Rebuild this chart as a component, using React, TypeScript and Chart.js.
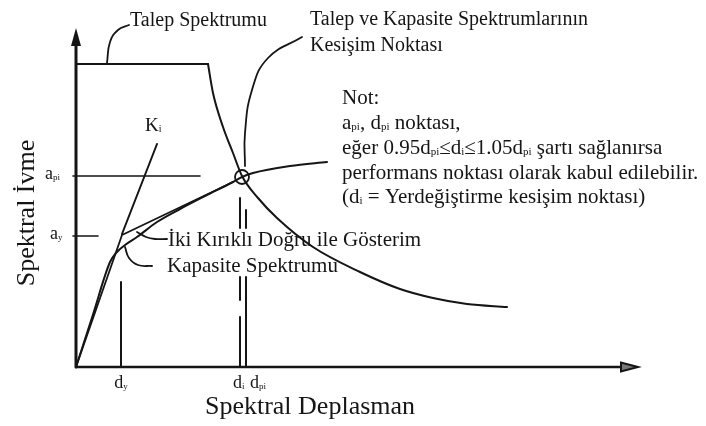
import { useEffect, useRef } from "react";
import { Chart, registerables } from "chart.js";

Chart.register(...registerables);

type P = [number, number];

// Schematic units: spectral displacement (x) and spectral acceleration (y), origin at 0,0
const xAxisLine: P[] = [[0, 0], [548, 0]];
const yAxisLine: P[] = [[0, 0], [0, 322]];
const xAxisTip: P = [562, 0];
const yAxisTip: P = [0, 339];

// Demand spectrum: constant plateau, then descending branch
const demandPlateau: P[] = [[0, 303], [132, 303]];
const demandBranch: P[] = [
  [132, 303], [137, 274], [147, 240], [157, 214], [166, 191], [182, 169],
  [201, 149], [237, 120], [284, 95], [324, 78], [357, 69], [391, 63], [431, 60],
];

// Capacity spectrum
const capacityCurve: P[] = [
  [0, 0], [17, 52.5], [34, 105], [40, 114], [49, 122], [61, 130], [81, 145],
  [104, 158], [129, 171], [157, 185], [166, 190], [177, 194], [214, 201], [251, 205],
];

// Bilinear representation and initial stiffness line
const bilinear: P[] = [[0, 0], [46, 132], [157, 185]];
const kiLine: P[] = [[46, 133], [81, 223]];

// Reference levels
const apiLevel: P[] = [[-3, 191], [124, 191]];
const ayLevel: P[] = [[-3, 131], [22, 131]];
const dyLine: P[] = [[45, 0], [45, 85]];
const diSegments: P[][] = [
  [[164, 169], [164, 139]],
  [[164, 90], [164, 67]],
  [[164, 50], [164, 0]],
];
const dpiSegments: P[][] = [
  [[170, 157], [170, 139]],
  [[170, 90], [170, 0]],
];
const performancePoint: P = [166, 190];

// Leader curves for callouts
const leaderDemand: P[] = [[31, 304], [34, 325], [42, 337], [53, 342]];
const leaderIntersection: P[] = [[169, 201], [169, 234], [176, 277], [192, 309], [226, 330]];
const leaderBilinear: P[] = [[61, 135], [70, 130], [79, 128], [91, 128]];
const leaderCapacity: P[] = [[49, 120], [53, 109], [62, 102], [76, 101]];

// Text: braces mark subscripts
type Label = { text: string; x: number; y: number; size: number; align?: "left" | "center"; rotate?: boolean };
const labels: Label[] = [
  { text: "Talep Spektrumu", x: 54, y: 341, size: 20 },
  { text: "Talep ve Kapasite Spektrumlarının", x: 234, y: 342, size: 20 },
  { text: "Kesişim Noktası", x: 234, y: 316, size: 20 },
  { text: "Not:", x: 266, y: 263, size: 21 },
  { text: "a{pi}, d{pi} noktası,", x: 266, y: 238, size: 21 },
  { text: "eğer 0.95d{pi}≤d{i}≤1.05d{pi} şartı sağlanırsa", x: 266, y: 213, size: 21 },
  { text: "performans noktası olarak kabul edilebilir.", x: 266, y: 188, size: 21 },
  { text: "(d{i} = Yerdeğiştirme kesişim noktası)", x: 266, y: 164, size: 21 },
  { text: "K{i}", x: 69, y: 236, size: 19 },
  { text: "a{pi}", x: -31, y: 188, size: 18 },
  { text: "a{y}", x: -26, y: 128, size: 18 },
  { text: "İki Kırıklı Doğru ile Gösterim", x: 92, y: 121, size: 21 },
  { text: "Kapasite Spektrumu", x: 91, y: 95, size: 21 },
  { text: "d{y}", x: 45, y: -21, size: 18, align: "center" },
  { text: "d{i}", x: 157, y: -21, size: 18 },
  { text: "d{pi}", x: 174, y: -21, size: 18 },
  { text: "Spektral Deplasman", x: 234, y: -47, size: 26, align: "center" },
  { text: "Spektral İvme", x: -42, y: 154, size: 26, align: "center", rotate: true },
];

const INK = "#151515";
const FONT = "'Liberation Serif', 'DejaVu Serif', serif";

const pts = (a: P[]) => a.map(([x, y]) => ({ x, y }));

function runsOf(text: string) {
  const out: { t: string; sub: boolean }[] = [];
  const re = /\{([^}]*)\}|([^{]+)/g;
  let m: RegExpExecArray | null;
  while ((m = re.exec(text))) {
    if (m[1] !== undefined) out.push({ t: m[1], sub: true });
    else out.push({ t: m[2], sub: false });
  }
  return out;
}

function drawRich(ctx: CanvasRenderingContext2D, l: Label, x: number, y: number) {
  const runs = runsOf(l.text);
  const main = `${l.size}px ${FONT}`;
  const small = `${Math.round(l.size * 0.52)}px ${FONT}`;
  let w = 0;
  for (const r of runs) {
    ctx.font = r.sub ? small : main;
    w += ctx.measureText(r.t).width;
  }
  ctx.save();
  ctx.translate(x, y);
  if (l.rotate) ctx.rotate(-Math.PI / 2);
  let cx = l.align === "center" ? -w / 2 : 0;
  ctx.fillStyle = INK;
  ctx.textBaseline = "alphabetic";
  ctx.textAlign = "left";
  for (const r of runs) {
    ctx.font = r.sub ? small : main;
    ctx.fillText(r.t, cx, r.sub ? 1 : 0);
    cx += ctx.measureText(r.t).width;
  }
  ctx.restore();
}

const annotate = {
  id: "annotate",
  afterDatasetsDraw(chart: any) {
    const { ctx } = chart;
    const sx = chart.scales.x;
    const sy = chart.scales.y;
    const X = (v: number) => sx.getPixelForValue(v);
    const Y = (v: number) => sy.getPixelForValue(v);
    ctx.save();
    // y axis arrowhead
    const yt = [X(yAxisTip[0]), Y(yAxisTip[1])];
    ctx.fillStyle = INK;
    ctx.beginPath();
    ctx.moveTo(yt[0], yt[1]);
    ctx.lineTo(yt[0] - 5, yt[1] + 18);
    ctx.lineTo(yt[0] + 5, yt[1] + 18);
    ctx.closePath();
    ctx.fill();
    // x axis arrowhead
    const xt = [X(xAxisTip[0]), Y(xAxisTip[1])];
    ctx.strokeStyle = INK;
    ctx.lineWidth = 2;
    ctx.fillStyle = "#777";
    ctx.beginPath();
    ctx.moveTo(xt[0], xt[1]);
    ctx.lineTo(xt[0] - 17, xt[1] - 4.5);
    ctx.lineTo(xt[0] - 17, xt[1] + 4.5);
    ctx.closePath();
    ctx.fill();
    ctx.stroke();
    for (const l of labels) drawRich(ctx, l, X(l.x), Y(l.y));
    ctx.restore();
  },
};

function line(data: P[], width = 2, curve: "none" | "mono" | "soft" = "none") {
  return {
    data: pts(data),
    showLine: true,
    borderColor: INK,
    backgroundColor: INK,
    borderWidth: width,
    pointRadius: 0,
    pointHoverRadius: 0,
    fill: false,
    clip: false as any,
    tension: curve === "soft" ? 0.45 : 0,
    cubicInterpolationMode: curve === "mono" ? "monotone" : "default",
    borderCapStyle: "round",
    borderJoinStyle: "round",
  };
}

export default function App() {
  const ref = useRef<HTMLCanvasElement | null>(null);
  useEffect(() => {
    document.body.style.margin = "0";
    const canvas = ref.current;
    if (!canvas) return;
    const datasets: any[] = [
      line(yAxisLine, 3),
      line(xAxisLine, 2.5),
      line(demandPlateau, 2.2),
      line(demandBranch, 2, "mono"),
      line(capacityCurve, 2, "mono"),
      line(bilinear, 1.8),
      line(kiLine, 2),
      line(apiLevel, 1.6),
      line(ayLevel, 1.6),
      line(dyLine, 2),
      ...diSegments.map((s) => line(s, 2)),
      ...dpiSegments.map((s) => line(s, 2)),
      line(leaderDemand, 1.8, "soft"),
      line(leaderIntersection, 1.8, "soft"),
      line(leaderBilinear, 1.8, "soft"),
      line(leaderCapacity, 1.8, "soft"),
      {
        data: pts([performancePoint]),
        showLine: false,
        pointRadius: 7,
        pointStyle: "circle",
        pointBorderColor: INK,
        pointBorderWidth: 1.8,
        pointBackgroundColor: "rgba(0,0,0,0)",
        clip: false,
      },
    ];
    const chart = new Chart(canvas, {
      type: "scatter",
      data: { datasets },
      options: {
        animation: false,
        responsive: false,
        maintainAspectRatio: false,
        layout: { padding: 0, autoPadding: false },
        events: [],
        plugins: { legend: { display: false }, tooltip: { enabled: false } },
        scales: {
          x: { type: "linear", min: -76, max: 630, display: false },
          y: { type: "linear", min: -59, max: 367, display: false },
        },
      },
      plugins: [annotate],
    });
    return () => chart.destroy();
  }, []);
  return (
    <div style={{ width: 706, height: 426, background: "#fff" }}>
      <canvas ref={ref} width={706} height={426} style={{ display: "block" }} />
    </div>
  );
}
